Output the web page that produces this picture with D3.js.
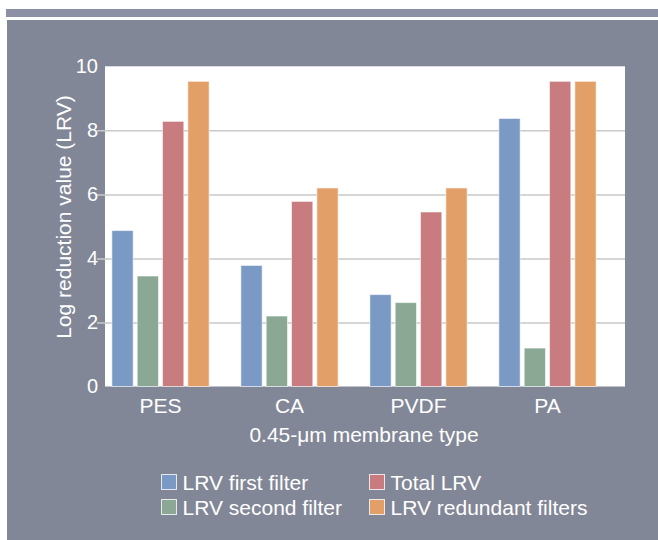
<!DOCTYPE html>
<html>
<head>
<meta charset="utf-8">
<script src="https://cdn.jsdelivr.net/npm/d3@7"></script>
<style>
  html, body { margin: 0; padding: 0; background: #ffffff; }
  svg { display: block; font-family: "Liberation Sans", Arial, sans-serif; }
</style>
</head>
<body>
<svg id="chart" width="658" height="540"></svg>
<script>
// ---- data ----
const categories = ["PES", "CA", "PVDF", "PA"];
const seriesNames = ["LRV first filter", "LRV second filter", "Total LRV", "LRV redundant filters"];
const firstFilter = [4.87, 3.78, 2.87, 8.37];
const secondFilter = [3.45, 2.2, 2.62, 1.2];
const totalLRV = [8.28, 5.78, 5.45, 9.53];
const redundantFilters = [9.53, 6.2, 6.2, 9.53];
const yTicks = [0, 2, 4, 6, 8, 10];
const seriesColors = ["#7a9ac5", "#8aa893", "#c97c7f", "#e2a068"];

const seriesValues = [firstFilter, secondFilter, totalLRV, redundantFilters];
const rows = categories.map((c, i) => ({
  category: c,
  values: seriesNames.map((s, j) => ({ series: s, value: seriesValues[j][i], color: seriesColors[j] }))
}));

const svg = d3.select("#chart");
const panelColor = "#828798";

// background strip and panel
svg.append("rect").attr("x", 6).attr("y", 9).attr("width", 652).attr("height", 8).attr("fill", "#8b90a4");
svg.append("rect").attr("x", 7).attr("y", 20).attr("width", 651).attr("height", 520).attr("fill", panelColor);

// plot area
const plotLeft = 105, plotRight = 625;
const y = d3.scaleLinear().domain([0, 10]).range([386.5, 66.3]);
const x0 = d3.scaleBand().domain(categories).range([96, 612]).padding(0);
const x1 = d3.scaleBand().domain(seriesNames).range([-50.65, 50.65]).paddingInner(0.16).paddingOuter(0.08);

svg.append("rect")
  .attr("x", plotLeft).attr("y", y(10))
  .attr("width", plotRight - plotLeft).attr("height", y(0) - y(10))
  .attr("fill", "#ffffff");

// y axis with gridlines
const yAxis = d3.axisLeft(y).tickValues(yTicks).tickSize(-(plotRight - plotLeft) - 8).tickFormat(d3.format("d"));
const gy = svg.append("g").attr("transform", `translate(${plotRight},0)`).call(yAxis);
gy.select(".domain").remove();
gy.selectAll(".tick line")
  .attr("transform", "translate(0,0)")
  .attr("x1", 0).attr("x2", -(plotRight - plotLeft) - 8)
  .attr("stroke", "#c9c9c9").attr("stroke-width", 1.5)
  .attr("opacity", d => (d === 0 || d === 10) ? 0 : 1);
gy.selectAll(".tick text")
  .attr("x", -(plotRight - plotLeft) - 7)
  .attr("fill", "#ffffff")
  .attr("font-size", 20)
  .attr("font-family", "Liberation Sans, Arial, sans-serif");

// bars
const groups = svg.append("g").selectAll("g").data(rows).join("g")
  .attr("transform", d => `translate(${x0(d.category) + x0.bandwidth() / 2},0)`);
groups.selectAll("rect").data(d => d.values).join("rect")
  .attr("x", d => x1(d.series))
  .attr("y", d => y(d.value))
  .attr("width", x1.bandwidth())
  .attr("height", d => y(0) - y(d.value))
  .attr("fill", d => d.color)
  .attr("stroke", "rgba(255,255,255,0.55)")
  .attr("stroke-width", 1);

// x axis labels
const xAxis = d3.axisBottom(x0).tickSize(0).tickPadding(0);
const gx = svg.append("g").attr("transform", `translate(0,${y(0)})`).call(xAxis);
gx.select(".domain").remove();
gx.selectAll(".tick text")
  .attr("dy", 0).attr("y", 26.5)
  .attr("fill", "#ffffff")
  .attr("font-size", 21)
  .attr("font-family", "Liberation Sans, Arial, sans-serif");

// axis titles
svg.append("text")
  .attr("transform", "translate(71,217) rotate(-90)")
  .attr("text-anchor", "middle")
  .attr("fill", "#ffffff")
  .attr("font-size", 21)
  .text("Log reduction value (LRV)");

svg.append("text")
  .attr("x", 364).attr("y", 442)
  .attr("text-anchor", "middle")
  .attr("fill", "#ffffff")
  .attr("font-size", 21)
  .text("0.45-\u03BCm membrane type");

// legend
const legendPos = [[161, 474], [161, 499], [369, 474], [369, 499]];
const legend = svg.append("g").selectAll("g").data(seriesNames).join("g")
  .attr("transform", (d, i) => `translate(${legendPos[i][0]},${legendPos[i][1]})`);
legend.append("rect")
  .attr("x", 0.5).attr("y", 0.5).attr("width", 15).attr("height", 15)
  .attr("fill", (d, i) => seriesColors[i])
  .attr("stroke", "rgba(255,255,255,0.8)").attr("stroke-width", 1);
legend.append("text")
  .attr("x", 21.5).attr("y", 15.5)
  .attr("fill", "#ffffff")
  .attr("font-size", 21)
  .text(d => d);
</script>
</body>
</html>
